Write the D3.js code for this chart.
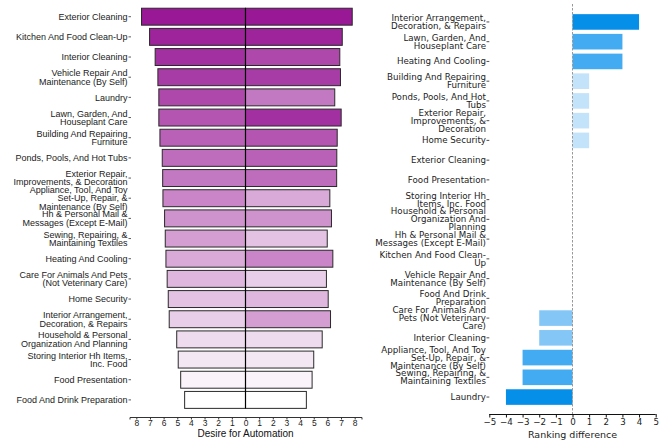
<!DOCTYPE html>
<html>
<head>
<meta charset="utf-8">
<script src="https://cdn.jsdelivr.net/npm/d3@7"></script>
<style>
  body { margin: 0; background: #fff; }
  svg { display: block; }
</style>
</head>
<body>
<div id="chart"></div>
<script>
// left panel: desire for automation, two groups mirrored around 0
const leftCats = [
  "Exterior Cleaning", "Kitchen And Food Clean-Up", "Interior Cleaning",
  "Vehicle Repair And\nMaintenance (By Self)", "Laundry",
  "Lawn, Garden, And\nHouseplant Care", "Building And Repairing\nFurniture",
  "Ponds, Pools, And Hot Tubs", "Exterior Repair,\nImprovements, & Decoration",
  "Appliance, Tool, And Toy\nSet-Up, Repair, &\nMaintenance (By Self)",
  "Hh & Personal Mail &\nMessages (Except E-Mail)",
  "Sewing, Repairing, &\nMaintaining Textiles", "Heating And Cooling",
  "Care For Animals And Pets\n(Not Veterinary Care)", "Home Security",
  "Interior Arrangement,\nDecoration, & Repairs",
  "Household & Personal\nOrganization And Planning",
  "Storing Interior Hh Items,\nInc. Food", "Food Presentation",
  "Food And Drink Preparation"
];
const leftVals = [7.62, 7.03, 6.62, 6.42, 6.35, 6.35, 6.27, 6.10, 6.07, 6.05,
                  5.93, 5.88, 5.83, 5.74, 5.66, 5.59, 5.04, 4.93, 4.75, 4.46];
const rightVals = [7.82, 7.09, 6.91, 6.96, 6.54, 7.01, 6.72, 6.69, 6.68, 6.18,
                   6.30, 5.99, 6.40, 5.93, 6.06, 6.23, 5.62, 5.00, 4.88, 4.46];
const desireTicks = [-8, -7, -6, -5, -4, -3, -2, -1, 0, 1, 2, 3, 4, 5, 6, 7, 8];

// right panel: ranking difference
const rankCats = [
  "Interior Arrangement,\nDecoration, & Repairs", "Lawn, Garden, And\nHouseplant Care",
  "Heating And Cooling", "Building And Repairing\nFurniture",
  "Ponds, Pools, And Hot\nTubs", "Exterior Repair,\nImprovements, &\nDecoration",
  "Home Security", "Exterior Cleaning", "Food Presentation",
  "Storing Interior Hh\nItems, Inc. Food",
  "Household & Personal\nOrganization And\nPlanning",
  "Hh & Personal Mail &\nMessages (Except E-Mail)", "Kitchen And Food Clean-\nUp",
  "Vehicle Repair And\nMaintenance (By Self)", "Food And Drink\nPreparation",
  "Care For Animals And\nPets (Not Veterinary\nCare)", "Interior Cleaning",
  "Appliance, Tool, And Toy\nSet-Up, Repair, &\nMaintenance (By Self)",
  "Sewing, Repairing, &\nMaintaining Textiles", "Laundry"
];
const rankDiff = [4, 3, 3, 1, 1, 1, 1, 0, 0, 0, 0, 0, 0, 0, 0, -2, -2, -3, -3, -4];
const rankTicks = [-5, -4, -3, -2, -1, 0, 1, 2, 3, 4, 5];

const W = 667, H = 441;
const svg = d3.select("#chart").append("svg").attr("width", W).attr("height", H);

// helper: multi-line label centered on y
function multiLabel(g, text, x, y, lh, font, size, color) {
  const lines = text.split("\n");
  const t = g.append("text")
    .attr("x", x).attr("text-anchor", "end")
    .attr("font-family", font).attr("font-size", size).attr("fill", color);
  lines.forEach((ln, i) => {
    t.append("tspan").attr("x", x)
      .attr("y", y + (i - (lines.length - 1) / 2) * lh)
      .attr("dy", "0.35em").text(ln);
  });
}

// ---------- left panel ----------
const xL = d3.scaleLinear().domain([-8.5, 8.5]).range([129.5, 361.5]);
const yL = d3.scaleBand().domain(leftCats).range([5, 411.6]).padding(0.16);
const nL = leftCats.length;
// colour by rank within each side
const rankOf = vals => {
  const sorted = vals.map((v, i) => [v, i]).sort((a, b) => b[0] - a[0]);
  const r = new Array(vals.length);
  sorted.forEach((d, k) => r[d[1]] = k);
  return r;
};
const lRank = rankOf(leftVals), rRank = rankOf(rightVals);
const purple = d3.scaleLinear().domain([0, nL - 1]).range(["#981895", "#ffffff"]);

const gL = svg.append("g");
leftCats.forEach((c, i) => {
  gL.append("rect")
    .attr("x", xL(-leftVals[i])).attr("y", yL(c))
    .attr("width", xL(0) - xL(-leftVals[i])).attr("height", yL.bandwidth())
    .attr("fill", purple(lRank[i])).attr("stroke", "#2a2a2a").attr("stroke-width", 1);
  gL.append("rect")
    .attr("x", xL(0)).attr("y", yL(c))
    .attr("width", xL(rightVals[i]) - xL(0)).attr("height", yL.bandwidth())
    .attr("fill", purple(rRank[i])).attr("stroke", "#2a2a2a").attr("stroke-width", 1);
  const cy = yL(c) + yL.bandwidth() / 2;
  gL.append("line").attr("x1", 128.5).attr("x2", 131).attr("y1", cy).attr("y2", cy)
    .attr("stroke", "#333").attr("stroke-width", 0.8);
  multiLabel(gL, c, 127.5, cy, 8.3, "Liberation Sans, Arial, sans-serif", 9, "#222");
});
gL.append("line").attr("x1", xL(0)).attr("x2", xL(0))
  .attr("y1", yL(leftCats[0])).attr("y2", yL(leftCats[nL - 1]) + yL.bandwidth())
  .attr("stroke", "#000").attr("stroke-width", 1.2);

const axL = gL.append("g").attr("transform", "translate(0,417)")
  .call(d3.axisBottom(xL).tickValues(desireTicks).tickSize(2.5).tickPadding(0)
    .tickFormat(d => Math.abs(d)));
axL.select(".domain").attr("stroke", "#333");
axL.selectAll(".tick line").attr("stroke", "#333");
axL.selectAll("text").attr("font-family", "Liberation Sans, Arial, sans-serif")
  .attr("font-size", 8.5).attr("fill", "#222");
gL.append("text").attr("x", xL(0)).attr("y", 436.5)
  .attr("text-anchor", "middle").attr("font-family", "Liberation Sans, Arial, sans-serif")
  .attr("font-size", 10).attr("fill", "#111").text("Desire for Automation");

// ---------- right panel ----------
const xR = d3.scaleLinear().domain([-5, 5]).range([489.3, 655.7]);
const yR = d3.scaleBand().domain(rankCats).range([10, 409]).padding(0.21);
const blues = {4: "#058fe9", 3: "#43abf1", 2: "#84c7f6", 1: "#c3e3fa", 0: "#ffffff"};

const gR = svg.append("g");
rankCats.forEach((c, i) => {
  const v = rankDiff[i];
  const cy = yR(c) + yR.bandwidth() / 2;
  if (v !== 0) {
    gR.append("rect")
      .attr("x", xR(Math.min(0, v))).attr("y", yR(c))
      .attr("width", Math.abs(xR(v) - xR(0))).attr("height", yR.bandwidth())
      .attr("fill", blues[Math.abs(v)]);
  }
  gR.append("line").attr("x1", 486.5).attr("x2", 489.3).attr("y1", cy).attr("y2", cy)
    .attr("stroke", "#222").attr("stroke-width", 0.8);
  multiLabel(gR, c, 486, cy, 8, "DejaVu Sans, sans-serif", 8.7, "#222");
});
gR.append("line").attr("x1", xR(0)).attr("x2", xR(0)).attr("y1", 4).attr("y2", 414)
  .attr("stroke", "#999").attr("stroke-width", 1).attr("stroke-dasharray", "2.5,1.5");

const axR = gR.append("g").attr("transform", "translate(0,414)")
  .call(d3.axisBottom(xR).tickValues(rankTicks).tickSize(3.5).tickPadding(1.5)
    .tickFormat(d => d < 0 ? "\u2212" + Math.abs(d) : d));
axR.select(".domain").attr("stroke", "#111").attr("d", "M489.3,0.5H655.7");
axR.selectAll(".tick line").attr("stroke", "#111");
axR.selectAll("text").attr("font-family", "DejaVu Sans, sans-serif")
  .attr("font-size", 8.7).attr("fill", "#222");
gR.append("text").attr("x", xR(0)).attr("y", 438)
  .attr("text-anchor", "middle").attr("font-family", "DejaVu Sans, sans-serif")
  .attr("font-size", 9.5).attr("fill", "#222").text("Ranking difference");
</script>
</body>
</html>
